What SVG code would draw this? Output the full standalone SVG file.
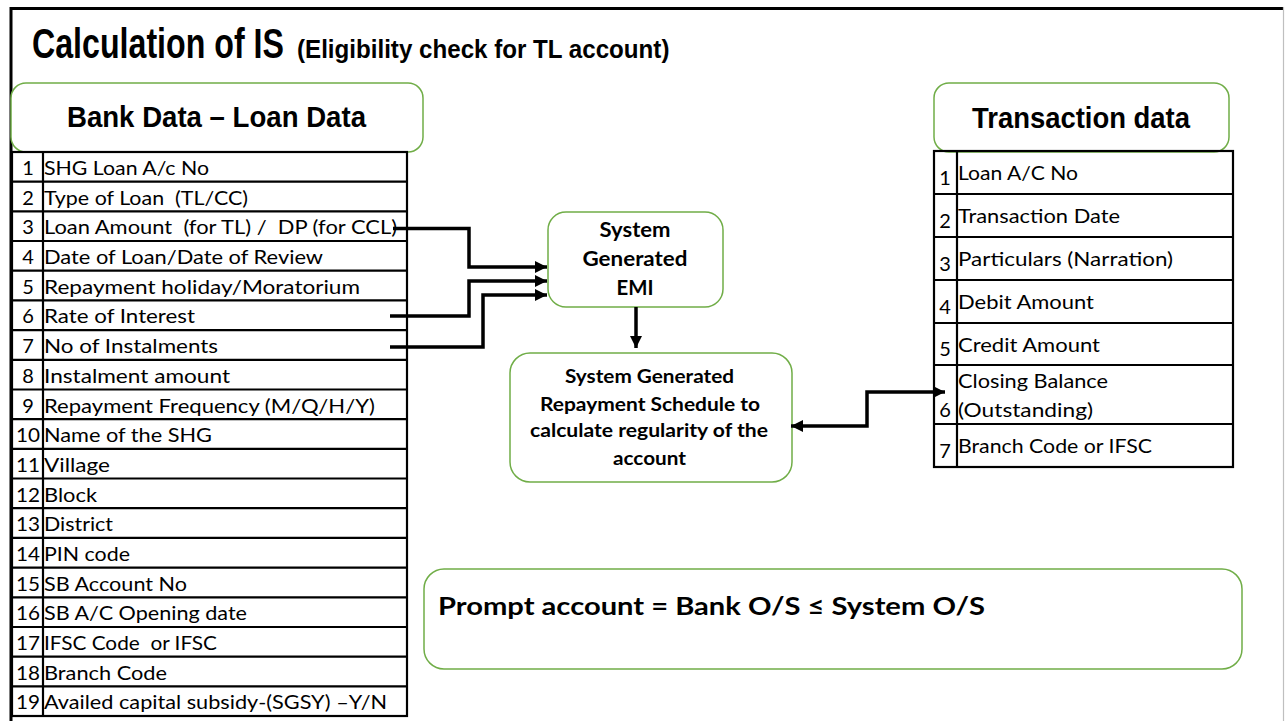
<svg xmlns="http://www.w3.org/2000/svg" width="1285" height="721" viewBox="0 0 1285 721">
<style>
  text { font-family: Lato, "Liberation Sans", sans-serif; fill: #000; }
  .b { font-weight: 700; }
  .h { font-family: "Liberation Sans", Arial, sans-serif; font-weight: 700; }
  .pre { white-space: pre; }
  .cell { font-size: 20px; }
  .num { font-size: 20px; text-anchor: middle; }
  .grn { fill: #fff; stroke: #70AD47; stroke-width: 1.5; }
  .tbl { fill: none; stroke: #000; stroke-width: 2.2; }
  .conn { fill: none; stroke: #000; stroke-width: 3.5; }
</style>
<defs>
  <marker id="ah" markerUnits="userSpaceOnUse" markerWidth="14" markerHeight="14" refX="12" refY="6" orient="auto-start-reverse" viewBox="0 0 14 12">
    <path d="M0,0 L12,6 L0,12 Z" fill="#000"/>
  </marker>
</defs>
<rect x="0" y="0" width="1285" height="721" fill="#fff"/>

<g id="frame">
  <line x1="11" y1="8.5" x2="1283" y2="8.5" stroke="#000" stroke-width="3"/>
  <line x1="11" y1="7" x2="11" y2="721" stroke="#000" stroke-width="3"/>
  <line x1="1283.5" y1="7" x2="1283.5" y2="721" stroke="#bfbfbf" stroke-width="1.2"/>
</g>

<g id="title">
  <text transform="translate(32,58) scale(0.748,1)" x="0" y="0" class="h" font-size="43">Calculation of IS</text>
  <text transform="translate(297,58) scale(0.929,1)" x="0" y="0" class="h" font-size="26">(Eligibility check for TL account)</text>
</g>

<g id="bank-header">
  <rect x="11" y="83" width="412" height="69" rx="15" class="grn"/>
  <text x="67" y="127" class="h" font-size="29" textLength="299" lengthAdjust="spacingAndGlyphs">Bank Data – Loan Data</text>
</g>

<g id="bank-table">
  <rect x="12" y="152" width="395" height="564" class="tbl"/>
  <line x1="43" y1="152" x2="43" y2="716" class="tbl"/>
  <g class="tbl">
    <line x1="12" y1="181.7" x2="407" y2="181.7"/>
    <line x1="12" y1="211.4" x2="407" y2="211.4"/>
    <line x1="12" y1="241" x2="407" y2="241"/>
    <line x1="12" y1="270.7" x2="407" y2="270.7"/>
    <line x1="12" y1="300.4" x2="407" y2="300.4"/>
    <line x1="12" y1="330.1" x2="407" y2="330.1"/>
    <line x1="12" y1="359.8" x2="407" y2="359.8"/>
    <line x1="12" y1="389.5" x2="407" y2="389.5"/>
    <line x1="12" y1="419.2" x2="407" y2="419.2"/>
    <line x1="12" y1="448.8" x2="407" y2="448.8"/>
    <line x1="12" y1="478.5" x2="407" y2="478.5"/>
    <line x1="12" y1="508.2" x2="407" y2="508.2"/>
    <line x1="12" y1="537.9" x2="407" y2="537.9"/>
    <line x1="12" y1="567.6" x2="407" y2="567.6"/>
    <line x1="12" y1="597.3" x2="407" y2="597.3"/>
    <line x1="12" y1="627" x2="407" y2="627"/>
    <line x1="12" y1="656.6" x2="407" y2="656.6"/>
    <line x1="12" y1="686.3" x2="407" y2="686.3"/>
  </g>
  <g class="num">
    <text x="28" y="175">1</text>
    <text x="28" y="204.7">2</text>
    <text x="28" y="234.4">3</text>
    <text x="28" y="264">4</text>
    <text x="28" y="293.7">5</text>
    <text x="28" y="323.4">6</text>
    <text x="28" y="353.1">7</text>
    <text x="28" y="382.8">8</text>
    <text x="28" y="412.5">9</text>
    <text x="28" y="442.2" textLength="24" lengthAdjust="spacingAndGlyphs">10</text>
    <text x="28" y="471.8" textLength="24" lengthAdjust="spacingAndGlyphs">11</text>
    <text x="28" y="501.5" textLength="24" lengthAdjust="spacingAndGlyphs">12</text>
    <text x="28" y="531.2" textLength="24" lengthAdjust="spacingAndGlyphs">13</text>
    <text x="28" y="560.9" textLength="24" lengthAdjust="spacingAndGlyphs">14</text>
    <text x="28" y="590.6" textLength="24" lengthAdjust="spacingAndGlyphs">15</text>
    <text x="28" y="620.3" textLength="24" lengthAdjust="spacingAndGlyphs">16</text>
    <text x="28" y="650" textLength="24" lengthAdjust="spacingAndGlyphs">17</text>
    <text x="28" y="679.6" textLength="24" lengthAdjust="spacingAndGlyphs">18</text>
    <text x="28" y="709.3" textLength="24" lengthAdjust="spacingAndGlyphs">19</text>
  </g>
  <g class="cell">
    <text x="44" y="175" textLength="165" lengthAdjust="spacingAndGlyphs">SHG Loan A/c No</text>
    <text x="44" y="204.7" class="pre" textLength="204" lengthAdjust="spacingAndGlyphs">Type of Loan  (TL/CC)</text>
    <text x="44" y="234.4" class="pre" textLength="353" lengthAdjust="spacingAndGlyphs">Loan Amount  (for TL) /  DP (for CCL)</text>
    <text x="44" y="264" textLength="279" lengthAdjust="spacingAndGlyphs">Date of Loan/Date of Review</text>
    <text x="44" y="293.7" textLength="316" lengthAdjust="spacingAndGlyphs">Repayment holiday/Moratorium</text>
    <text x="44" y="323.4" textLength="151" lengthAdjust="spacingAndGlyphs">Rate of Interest</text>
    <text x="44" y="353.1" textLength="174" lengthAdjust="spacingAndGlyphs">No of Instalments</text>
    <text x="44" y="382.8" textLength="186" lengthAdjust="spacingAndGlyphs">Instalment amount</text>
    <text x="44" y="412.5" textLength="331" lengthAdjust="spacingAndGlyphs">Repayment Frequency (M/Q/H/Y)</text>
    <text x="44" y="442.2" textLength="168" lengthAdjust="spacingAndGlyphs">Name of the SHG</text>
    <text x="44" y="471.8" textLength="66" lengthAdjust="spacingAndGlyphs">Village</text>
    <text x="44" y="501.5" textLength="53" lengthAdjust="spacingAndGlyphs">Block</text>
    <text x="44" y="531.2" textLength="69" lengthAdjust="spacingAndGlyphs">District</text>
    <text x="44" y="560.9" textLength="86" lengthAdjust="spacingAndGlyphs">PIN code</text>
    <text x="44" y="590.6" textLength="143" lengthAdjust="spacingAndGlyphs">SB Account No</text>
    <text x="44" y="620.3" textLength="203" lengthAdjust="spacingAndGlyphs">SB A/C Opening date</text>
    <text x="44" y="650" class="pre" textLength="173" lengthAdjust="spacingAndGlyphs">IFSC Code  or IFSC</text>
    <text x="44" y="679.6" textLength="123" lengthAdjust="spacingAndGlyphs">Branch Code</text>
    <text x="44" y="709.3" textLength="343" lengthAdjust="spacingAndGlyphs">Availed capital subsidy-(SGSY) –Y/N</text>
  </g>
</g>

<g id="emi-node">
  <rect x="548" y="212" width="175" height="95" rx="18" class="grn"/>
  <g class="b" font-size="20" text-anchor="middle">
    <text x="635" y="237" textLength="71" lengthAdjust="spacingAndGlyphs">System</text>
    <text x="635" y="266" textLength="105" lengthAdjust="spacingAndGlyphs">Generated</text>
    <text x="635" y="295" textLength="37" lengthAdjust="spacingAndGlyphs">EMI</text>
  </g>
</g>

<g id="schedule-node">
  <rect x="510" y="353" width="282" height="129" rx="20" class="grn"/>
  <g class="b" font-size="18" text-anchor="middle">
    <text x="649.5" y="383" textLength="169" lengthAdjust="spacingAndGlyphs">System Generated</text>
    <text x="650" y="411" textLength="220" lengthAdjust="spacingAndGlyphs">Repayment Schedule to</text>
    <text x="649" y="437" textLength="238" lengthAdjust="spacingAndGlyphs">calculate regularity of the</text>
    <text x="649.5" y="465" textLength="73" lengthAdjust="spacingAndGlyphs">account</text>
  </g>
</g>

<g id="transaction-header">
  <rect x="934" y="83" width="295" height="69" rx="15" class="grn"/>
  <text x="972" y="128" class="h" font-size="29" textLength="218" lengthAdjust="spacingAndGlyphs">Transaction data</text>
</g>

<g id="transaction-table">
  <rect x="934" y="151" width="299" height="316" class="tbl" stroke-width="2.5"/>
  <g class="tbl">
    <line x1="957" y1="151" x2="957" y2="467"/>
    <line x1="934" y1="194" x2="1233" y2="194"/>
    <line x1="934" y1="237" x2="1233" y2="237"/>
    <line x1="934" y1="280" x2="1233" y2="280"/>
    <line x1="934" y1="323" x2="1233" y2="323"/>
    <line x1="934" y1="365" x2="1233" y2="365"/>
    <line x1="934" y1="424" x2="1233" y2="424"/>
  </g>
  <g class="num">
    <text x="945" y="185">1</text>
    <text x="945" y="228">2</text>
    <text x="945" y="271">3</text>
    <text x="945" y="314">4</text>
    <text x="945" y="356">5</text>
    <text x="945" y="417">6</text>
    <text x="945" y="458">7</text>
  </g>
  <g class="cell">
    <text x="958" y="180" textLength="120" lengthAdjust="spacingAndGlyphs">Loan A/C No</text>
    <text x="958" y="223" textLength="162" lengthAdjust="spacingAndGlyphs">Transaction Date</text>
    <text x="958" y="266" textLength="215" lengthAdjust="spacingAndGlyphs">Particulars (Narration)</text>
    <text x="958" y="309" textLength="136" lengthAdjust="spacingAndGlyphs">Debit Amount</text>
    <text x="958" y="352" textLength="142" lengthAdjust="spacingAndGlyphs">Credit Amount</text>
    <text x="958" y="388" textLength="150" lengthAdjust="spacingAndGlyphs">Closing Balance</text>
    <text x="958" y="417" textLength="135" lengthAdjust="spacingAndGlyphs">(Outstanding)</text>
    <text x="958" y="453" textLength="194" lengthAdjust="spacingAndGlyphs">Branch Code or IFSC</text>
  </g>
</g>

<g id="prompt-node">
  <rect x="424" y="569" width="818" height="100" rx="20" class="grn"/>
  <text x="438" y="615" class="b" font-size="25" textLength="547" lengthAdjust="spacingAndGlyphs">Prompt account = Bank O/S ≤ System O/S</text>
</g>

<g id="connectors">
  <path d="M393,228.5 H469 V267 H547" class="conn" marker-end="url(#ah)"/>
  <path d="M390,316 H469 V281 H547" class="conn" marker-end="url(#ah)"/>
  <path d="M390,347 H483 V295 H547" class="conn" marker-end="url(#ah)"/>
  <path d="M636,307 V348" class="conn" marker-end="url(#ah)"/>
  <path d="M791,426 H867 V392 H945" class="conn" marker-start="url(#ah)" marker-end="url(#ah)"/>
</g>
</svg>
